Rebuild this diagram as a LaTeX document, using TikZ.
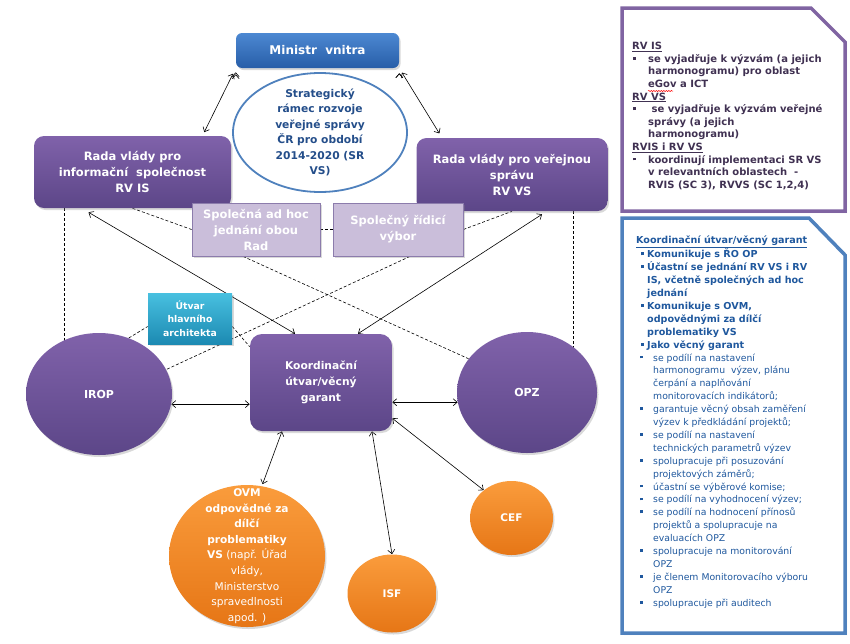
\documentclass[tikz,border=0pt]{standalone}
\usepackage{fontspec}
\setmainfont{DejaVuSans.ttf}[BoldFont=DejaVuSans-Bold.ttf]
\usetikzlibrary{shapes.geometric,arrows.meta,shadows,backgrounds,decorations.pathmorphing}

\definecolor{violetA}{RGB}{128,98,170}
\definecolor{violetB}{RGB}{92,70,136}
\definecolor{blueA}{RGB}{76,136,210}
\definecolor{blueB}{RGB}{40,94,168}
\definecolor{lilac}{RGB}{202,190,218}
\definecolor{lilacB}{RGB}{140,124,172}
\definecolor{tealA}{RGB}{72,192,224}
\definecolor{tealB}{RGB}{28,138,178}
\definecolor{orangeA}{RGB}{250,156,60}
\definecolor{orangeB}{RGB}{230,118,22}
\definecolor{ellblue}{RGB}{79,129,189}
\definecolor{elltext}{RGB}{36,78,138}
\definecolor{purpletext}{RGB}{64,49,82}
\definecolor{bluetext}{RGB}{31,88,158}
\definecolor{panelblue}{RGB}{79,129,189}
\definecolor{panelviolet}{RGB}{128,100,162}

\newcommand\blt[1]{\makebox[#1][l]{\rule[2.6pt]{2.8pt}{2.8pt}}}
\newcommand\subpt[1]{{\mdseries\fontsize{9.3}{12.9}\selectfont\hspace*{4pt}\blt{13pt}#1}}
\newcommand\subcont[1]{{\mdseries\fontsize{9.3}{12.9}\selectfont\hspace*{17pt}#1}}

\begin{document}
\begin{tikzpicture}[x=1pt,y=-1pt,line width=0.6pt]

\tikzstyle{shade}=[drop shadow={shadow xshift=1.5pt,shadow yshift=-2pt,opacity=0.3}]
\tikzstyle{bigbold}=[font=\bfseries\fontsize{11.5}{16}\selectfont]
\tikzstyle{bluebox}=[rectangle,rounded corners=6pt,top color=blueA,bottom color=blueB,text=white,font=\bfseries\fontsize{12}{15}\selectfont,shade]
\tikzstyle{violetbox}=[rectangle,rounded corners=10pt,top color=violetA,bottom color=violetB,text=white,align=center,bigbold,shade]
\tikzstyle{lilacbox}=[rectangle,fill=lilac,draw=lilacB,line width=0.8pt,text=white,align=center,bigbold,shade]
\tikzstyle{tealbox}=[rectangle,top color=tealA,bottom color=tealB,text=white,align=center,font=\bfseries\fontsize{9.3}{13.5}\selectfont,shade]
\tikzstyle{violetcirc}=[ellipse,inner sep=0,top color=violetA,bottom color=violetB,text=white,font=\bfseries\fontsize{11}{13}\selectfont,shade]
\tikzstyle{orangecirc}=[ellipse,inner sep=0,top color=orangeA,bottom color=orangeB,text=white,font=\bfseries\fontsize{10.5}{13}\selectfont,shade]
\tikzstyle{twoway}=[{Straight Barb[length=4pt,width=7pt]}-{Straight Barb[length=4pt,width=7pt]},line width=0.6pt]
\tikzstyle{dashline}=[dash pattern=on 3pt off 2pt,line width=0.6pt]
\tikzstyle{panel}=[line width=3.5pt,fill=white,drop shadow={shadow xshift=2pt,shadow yshift=-2pt,opacity=0.2}]

\useasboundingbox (0,0) rectangle (850,643);

\node[bluebox,minimum width=163,minimum height=35] (v1) at (317.5,50.5) {Ministr\ \ vnitra};
\node[ellipse,draw=ellblue,line width=1.8pt,fill=white,minimum width=174,minimum height=119,inner sep=0] (v2) at (320,132.5) {};
\node[align=center,text=elltext,font=\bfseries\fontsize{10.7}{15.5}\selectfont] (t2) at (v2.center) {Strategický\\rámec rozvoje\\veřejné správy\\ČR pro období\\2014-2020 (SR\\VS)};
\node[violetbox,minimum width=197,minimum height=72] (v3) at (132.5,172) {Rada vlády pro\\informační\ \ společnost\\RV IS};
\node[violetbox,minimum width=191,minimum height=73] (v4) at (512,174.5) {Rada vlády pro veřejnou\\správu\\RV VS};
\node[lilacbox,minimum width=128,minimum height=53] (v5) at (256,229.5) {Společná ad hoc\\jednání obou\\Rad};
\node[lilacbox,minimum width=130,minimum height=53] (v6) at (398,229.5) {Společný řídicí\\výbor};
\node[tealbox,minimum width=84,minimum height=51] (v7) at (190,318.5) {Útvar\\hlavního\\architekta};
\node[violetcirc,minimum width=146,minimum height=122] (v8) at (99,394) {IROP};
\node[violetbox,rounded corners=12pt,minimum width=142,minimum height=97,font=\bfseries\fontsize{10.7}{16}\selectfont] (v9) at (321,382.5) {Koordinační\\útvar/věcný\\garant};
\node[violetcirc,minimum width=140,minimum height=121] (v10) at (527,392.5) {OPZ};
\node[orangecirc,minimum width=156,minimum height=142] (v11) at (247,556) {};
\node[align=center,text=white,font=\fontsize{10.6}{15.6}\selectfont] (t11) at (v11.center) {\textbf{OVM}\\\textbf{odpovědné za}\\\textbf{dílčí}\\\textbf{problematiky}\\\textbf{VS} (např. Úřad\\vlády,\\Ministerstvo\\spravedlnosti\\apod. )};
\node[orangecirc,minimum width=89,minimum height=78] (v12) at (392,593.5) {ISF};
\node[orangecirc,minimum width=83,minimum height=74] (v13) at (511.5,518) {CEF};

\begin{pgfonlayer}{background}
\draw[twoway,shorten <=6pt,shorten >=4pt] (v1.south west) edge ([xshift=70pt]v3.north);
\draw[twoway,shorten <=5pt,shorten >=5pt] (v1.south east) edge ([xshift=-70pt]v4.north);
\draw[twoway] ([xshift=-44pt,yshift=-4pt]v3.south) -- ([xshift=-26pt]v9.north);
\draw[twoway] ([xshift=30pt,yshift=-3pt]v4.south) -- ([xshift=37pt]v9.north);
\draw[twoway] (v8.-8) -- (v8.-8 -| v9.west);
\draw[twoway] (v9.east |- v10.188) -- (v10.188);
\draw[twoway,shorten >=2pt] ([xshift=-39pt]v9.south) -- (v11.78);
\draw[twoway] ([xshift=51pt]v9.south) -- (v12.north);
\draw[twoway] ([yshift=13pt]v9.south east) -- (v13.135);

\draw[dashline] ([xshift=-68.5pt]v3.south) -- ([xshift=-68.5pt]v3.south |- v8.center);
\draw[dashline] ([xshift=61pt]v4.south) -- ([xshift=61pt]v4.south |- v10.center);
\draw[dashline] (v3.south) -- (v5.west);
\draw[dashline] (v5.east) -- (v6.west);
\draw[dashline] (v6.east) -- (v4.south);
\draw[dashline] ([xshift=-13pt]v5.south) -- (v10.150);
\draw[dashline] ([xshift=12pt]v6.south) -- (v8.20);
\draw[dashline] (v8.62) -- ([yshift=-8pt]v7.west);
\draw[dashline] ([yshift=-8pt]v7.east) -- ([yshift=-13pt]v9.north west);
\end{pgfonlayer}

% panels on the right
\draw[panel,draw=panelviolet] (622,8) -- (811,8) -- (845,42) -- (845,211) -- (622,211) -- cycle;
\draw[panel,draw=panelblue] (622,218) -- (809,218) -- (845,255) -- (845,633) -- (622,633) -- cycle;

\node[anchor=north west,inner sep=0,align=left,text=purpletext,font=\bfseries\fontsize{10}{12.6}\selectfont] (p1) at (632,42) {%
\underline{RV IS}\\
\hspace*{1pt}\blt{15pt}se vyjadřuje k výzvám (a jejich\\
\hspace*{16pt}harmonogramu) pro oblast\\
\hspace*{16pt}eGov a ICT\\
\underline{RV VS}\\
\hspace*{1pt}\blt{15pt} se vyjadřuje k výzvám veřejné\\
\hspace*{16pt}správy (a jejich\\
\hspace*{16pt}harmonogramu)\\
\underline{RVIS i RV VS}\\
\hspace*{1pt}\blt{15pt}koordinují implementaci SR VS\\
\hspace*{16pt}v relevantních oblastech\ \ -\\
\hspace*{16pt}RVIS (SC 3), RVVS (SC 1,2,4)};
\draw[red,line width=0.5pt,decorate,decoration={snake,amplitude=0.6pt,segment length=2.5pt}] (648,91) -- (673,91);

\node[anchor=north west,inner sep=0,align=left,text=bluetext,font=\bfseries\fontsize{9.6}{12.9}\selectfont] (p2) at (636,236) {%
\underline{Koordinační útvar/věcný garant}\\
\hspace*{5pt}\blt{6pt}Komunikuje s ŘO OP\\
\hspace*{5pt}\blt{6pt}Účastní se jednání RV VS i RV\\
\hspace*{11pt}IS, včetně společných ad hoc\\
\hspace*{11pt}jednání\\
\hspace*{5pt}\blt{6pt}Komunikuje s OVM,\\
\hspace*{11pt}odpovědnými za dílčí\\
\hspace*{11pt}problematiky VS\\
\hspace*{5pt}\blt{6pt}Jako věcný garant\\
\subpt{se podílí na nastavení}\\
\subcont{harmonogramu\ \ výzev, plánu}\\
\subcont{čerpání a naplňování}\\
\subcont{monitorovacích indikátorů;}\\
\subpt{garantuje věcný obsah zaměření}\\
\subcont{výzev k předkládání projektů;}\\
\subpt{se podílí na nastavení}\\
\subcont{technických parametrů výzev}\\
\subpt{spolupracuje při posuzování}\\
\subcont{projektových záměrů;}\\
\subpt{účastní se výběrové komise;}\\
\subpt{se podílí na vyhodnocení výzev;}\\
\subpt{se podílí na hodnocení přínosů}\\
\subcont{projektů a spolupracuje na}\\
\subcont{evaluacích OPZ}\\
\subpt{spolupracuje na monitorování}\\
\subcont{OPZ}\\
\subpt{je členem Monitorovacího výboru}\\
\subcont{OPZ}\\
\subpt{spolupracuje při auditech}};
\end{tikzpicture}
\end{document}
